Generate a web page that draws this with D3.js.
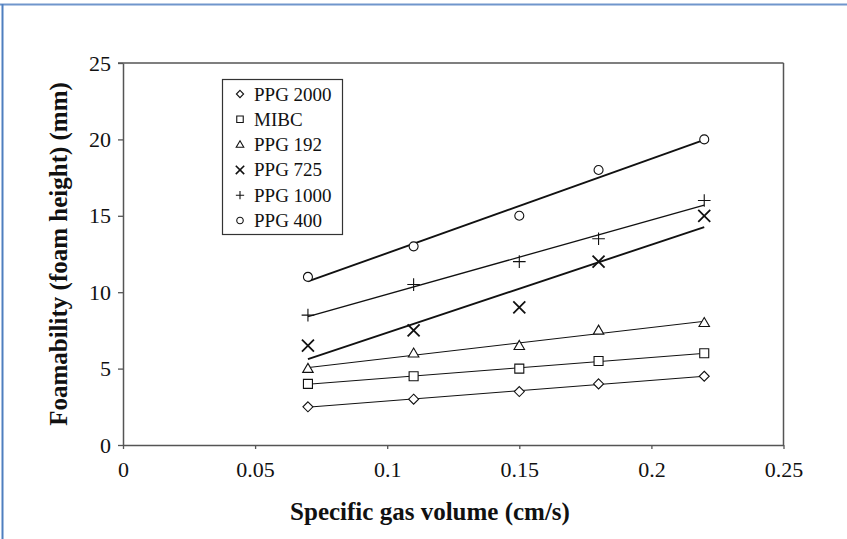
<!DOCTYPE html>
<html>
<head>
<meta charset="utf-8">
<script src="https://cdn.jsdelivr.net/npm/d3@7"></script>
<style>
  html, body { margin: 0; padding: 0; background: #fff; }
  svg { display: block; }
  text { font-family: "Liberation Serif", "Times New Roman", serif; fill: #111; }
</style>
</head>
<body>
<script>
// Foam height vs. superficial gas velocity for six frothers
const gasVelocity = [0.07, 0.11, 0.15, 0.18, 0.22];
const seriesNames = ["PPG 2000", "MIBC", "PPG 192", "PPG 725", "PPG 1000", "PPG 400"];
const ppg2000 = [2.5, 3, 3.5, 4, 4.5];
const mibc    = [4, 4.5, 5, 5.5, 6];
const ppg192  = [5, 6, 6.5, 7.5, 8];
const ppg725  = [6.5, 7.5, 9, 12, 15];
const ppg1000 = [8.5, 10.5, 12, 13.5, 16];
const ppg400  = [11, 13, 15, 18, 20];
const xTicks = [0, 0.05, 0.1, 0.15, 0.2, 0.25];
const xTickLabels = ["0", "0.05", "0.1", "0.15", "0.2", "0.25"];
const yTicks = [0, 5, 10, 15, 20, 25];

const seriesValues = [ppg2000, mibc, ppg192, ppg725, ppg1000, ppg400];
const markerKinds = ["diamond", "square", "triangle", "x", "plus", "circle"];
const lineWidths = [1, 1, 1, 1.9, 1.3, 1.9];

const W = 847, H = 539;
const svg = d3.select("body").append("svg").attr("width", W).attr("height", H);

// page frame (top and left rules)
svg.append("line").attr("x1", 0).attr("x2", W).attr("y1", 4.5).attr("y2", 4.5)
  .attr("stroke", "#7096cc").attr("stroke-width", 2);
svg.append("line").attr("x1", 2.5).attr("x2", 2.5).attr("y1", 4).attr("y2", H)
  .attr("stroke", "#4f7fbf").attr("stroke-width", 2);

const x = d3.scaleLinear().domain([0, 0.25]).range([123, 783.5]);
const y = d3.scaleLinear().domain([0, 25]).range([445, 63]);

const axisColor = "#555";

// plot box: top and right edges
svg.append("line").attr("x1", x(0) - 5).attr("x2", x(0.25)).attr("y1", y(25)).attr("y2", y(25))
  .attr("stroke", axisColor).attr("stroke-width", 1.5);
svg.append("line").attr("x1", x(0.25)).attr("x2", x(0.25)).attr("y1", y(25)).attr("y2", y(0))
  .attr("stroke", axisColor).attr("stroke-width", 1.5);

const xAxis = svg.append("g").attr("transform", `translate(0,${y(0)})`)
  .call(d3.axisBottom(x).tickValues(xTicks).tickFormat((d, i) => xTickLabels[i]).tickSize(4).tickSizeOuter(0));
xAxis.selectAll("text").attr("y", 32).attr("dy", 0).style("font-size", "22px")
  .style("font-family", "Liberation Serif, serif").attr("fill", "#111");

const yAxis = svg.append("g").attr("transform", `translate(${x(0)},0)`)
  .call(d3.axisLeft(y).tickValues(yTicks).tickFormat(d3.format("d")).tickSize(5).tickSizeOuter(0).tickPadding(7));
yAxis.selectAll("text").style("font-size", "22px")
  .style("font-family", "Liberation Serif, serif").attr("fill", "#111");

[xAxis, yAxis].forEach(a => {
  a.select(".domain").attr("stroke", axisColor).attr("stroke-width", 1.5);
  a.selectAll(".tick line").attr("stroke", axisColor).attr("stroke-width", 1.3);
});

// axis titles
svg.append("text").attr("x", 430).attr("y", 520).attr("text-anchor", "middle")
  .style("font-size", "25px").style("font-weight", "bold").text("Specific gas volume (cm/s)");
svg.append("text").attr("transform", `translate(67,${(y(0) + y(25)) / 2}) rotate(-90)`)
  .attr("text-anchor", "middle")
  .style("font-size", "25px").style("font-weight", "bold").text("Foamability (foam height) (mm)");

// marker shapes, centred on the origin
function markerPath(kind, s) {
  switch (kind) {
    case "diamond": return `M0,${-s}L${s},0L0,${s}L${-s},0Z`;
    case "square": return `M${-s * 0.9},${-s * 0.9}H${s * 0.9}V${s * 0.9}H${-s * 0.9}Z`;
    case "triangle": return `M0,${-s * 1.05}L${s * 1.05},${s * 0.75}L${-s * 1.05},${s * 0.75}Z`;
    case "x": return `M${-s},${-s}L${s},${s}M${-s},${s}L${s},${-s}`;
    case "plus": return `M${-s * 1.15},0H${s * 1.15}M0,${-s * 1.15}V${s * 1.15}`;
    case "circle": {
      const r = s * 0.9;
      return `M${r},0A${r},${r} 0 1,1 ${-r},0A${r},${r} 0 1,1 ${r},0Z`;
    }
  }
}

// least-squares trend line for each series
function fit(xs, ys) {
  const mx = d3.mean(xs), my = d3.mean(ys);
  const sxy = d3.sum(xs, (v, i) => (v - mx) * (ys[i] - my));
  const sxx = d3.sum(xs, v => (v - mx) * (v - mx));
  const b = sxy / sxx;
  return v => my + b * (v - mx);
}

const xMin = d3.min(gasVelocity), xMax = d3.max(gasVelocity);
seriesValues.forEach((vals, si) => {
  const f = fit(gasVelocity, vals);
  svg.append("line")
    .attr("x1", x(xMin)).attr("y1", y(f(xMin)))
    .attr("x2", x(xMax)).attr("y2", y(f(xMax)))
    .attr("stroke", "#111").attr("stroke-width", lineWidths[si]);
});

seriesValues.forEach((vals, si) => {
  const kind = markerKinds[si];
  const s = kind === "x" ? 6 : (kind === "plus" ? 5.5 : 5);
  svg.append("g").selectAll("path").data(vals).join("path")
    .attr("transform", (d, i) => `translate(${x(gasVelocity[i])},${y(d)})`)
    .attr("d", markerPath(kind, s))
    .attr("fill", kind === "x" || kind === "plus" ? "none" : "#fff")
    .attr("stroke", "#111")
    .attr("stroke-width", kind === "x" ? 1.8 : 1.1);
});

// legend
const lg = svg.append("g");
lg.append("rect").attr("x", 222.5).attr("y", 79.5).attr("width", 120).attr("height", 155)
  .attr("fill", "#fff").attr("stroke", "#333").attr("stroke-width", 1.2);
seriesNames.forEach((name, i) => {
  const cy = 94 + i * 25.3;
  const kind = markerKinds[i];
  const s = kind === "x" ? 4.2 : 3.6;
  lg.append("path").attr("transform", `translate(240,${cy})`)
    .attr("d", markerPath(kind, s))
    .attr("fill", kind === "x" || kind === "plus" ? "none" : "#fff")
    .attr("stroke", "#111").attr("stroke-width", kind === "x" ? 1.6 : 1.1);
  lg.append("text").attr("x", 254).attr("y", cy + 6.5)
    .style("font-size", "19px").text(name);
});
</script>
</body>
</html>
